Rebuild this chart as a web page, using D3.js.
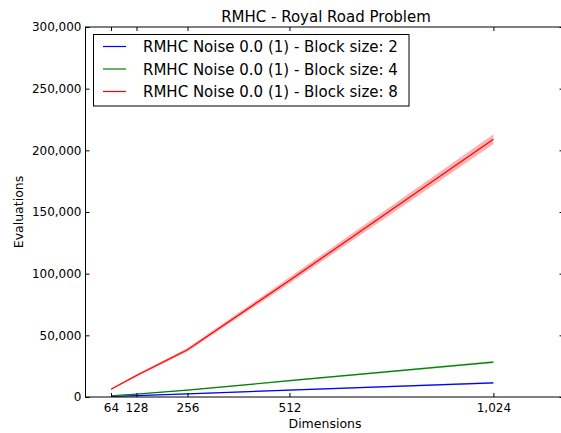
<!DOCTYPE html>
<html><head><meta charset="utf-8">
<script src="https://cdn.jsdelivr.net/npm/d3@7"></script>
<style>body{margin:0;background:#fff;overflow:hidden}svg{font-family:"DejaVu Sans",sans-serif}</style>
</head><body><svg id="c" width="561" height="433"></svg>
<script>
const dims = [64, 128, 256, 512, 1024];
const seriesNames = ["RMHC Noise 0.0 (1) - Block size: 2","RMHC Noise 0.0 (1) - Block size: 4","RMHC Noise 0.0 (1) - Block size: 8"];
const block2 = [500, 1100, 2500, 5600, 11500];
const block4 = [1000, 2400, 5600, 13200, 28200];
const block8 = [6300, 17500, 38300, 94500, 209000];
const block2Err = [100, 150, 250, 400, 700];
const block4Err = [150, 250, 400, 600, 900];
const block8Err = [600, 1000, 1500, 2500, 4000];
const colors = ["#0000ff", "#008000", "#ff0000"];
const yTicks = [0, 50000, 100000, 150000, 200000, 250000, 300000];

const svg = d3.select("#c");
const L = 85.5, R = 563.5, T = 27, B = 397;
const x = d3.scaleLinear().domain([0, 1200]).range([L, R]);
const y = d3.scaleLinear().domain([0, 300000]).range([B, T]);
const fmt = d3.format(",");

const series = [block2, block4, block8].map((v, i) => ({v, e: [block2Err, block4Err, block8Err][i], c: colors[i], name: seriesNames[i]}));

const g = svg.append("g");
const area = d3.area().x((d, i) => x(dims[i])).y0(d => y(d[0] - d[1])).y1(d => y(d[0] + d[1]));
const line = d3.line().x((d, i) => x(dims[i])).y(d => y(d));
series.forEach(s => {
  g.append("path").attr("d", area(s.v.map((d, i) => [d, s.e[i]]))).attr("fill", s.c).attr("opacity", 0.3);
});
series.forEach(s => {
  g.append("path").attr("d", line(s.v)).attr("fill", "none").attr("stroke", s.c).attr("stroke-width", 1.2);
});

// frame
svg.append("rect").attr("x", L).attr("y", T).attr("width", R - L).attr("height", B - T).attr("fill", "none").attr("stroke", "#000").attr("stroke-width", 1);

// axes with inward ticks
const xb = svg.append("g").attr("transform", `translate(0,${B})`).call(d3.axisBottom(x).tickValues(dims).tickFormat(fmt).tickSizeInner(-4).tickSizeOuter(0).tickPadding(6));
const xt = svg.append("g").attr("transform", `translate(0,${T})`).call(d3.axisTop(x).tickValues(dims).tickFormat("").tickSizeInner(-4).tickSizeOuter(0));
const yl = svg.append("g").attr("transform", `translate(${L},0)`).call(d3.axisLeft(y).tickValues(yTicks).tickFormat(fmt).tickSizeInner(-4).tickSizeOuter(0).tickPadding(4));
const yr = svg.append("g").attr("transform", `translate(${R},0)`).call(d3.axisRight(y).tickValues(yTicks).tickFormat("").tickSizeInner(-4).tickSizeOuter(0));
[xb, xt, yl, yr].forEach(a => { a.select(".domain").remove(); a.selectAll("text").attr("font-size", 12).attr("fill", "#000").attr("font-family", "DejaVu Sans"); a.selectAll("line").attr("stroke", "#000"); });

svg.append("text").attr("x", 326).attr("y", 22).attr("text-anchor", "middle").attr("font-size", 15).text("RMHC - Royal Road Problem");
svg.append("text").attr("x", 325).attr("y", 428).attr("text-anchor", "middle").attr("font-size", 12.5).text("Dimensions");
svg.append("text").attr("transform", `translate(23,${(T + B) / 2}) rotate(-90)`).attr("text-anchor", "middle").attr("font-size", 12.5).text("Evaluations");

// legend
const lg = svg.append("g");
lg.append("rect").attr("x", 93.5).attr("y", 34.5).attr("width", 315.5).attr("height", 71.5).attr("fill", "#fff").attr("stroke", "#000");
series.forEach((s, i) => {
  const yy = 46.5 + i * 22.5;
  lg.append("line").attr("x1", 103).attr("x2", 126).attr("y1", yy).attr("y2", yy).attr("stroke", s.c).attr("stroke-width", 1.2);
  lg.append("text").attr("x", 143).attr("y", yy + 5.5).attr("font-size", 15).text(s.name);
});
</script></body></html>
